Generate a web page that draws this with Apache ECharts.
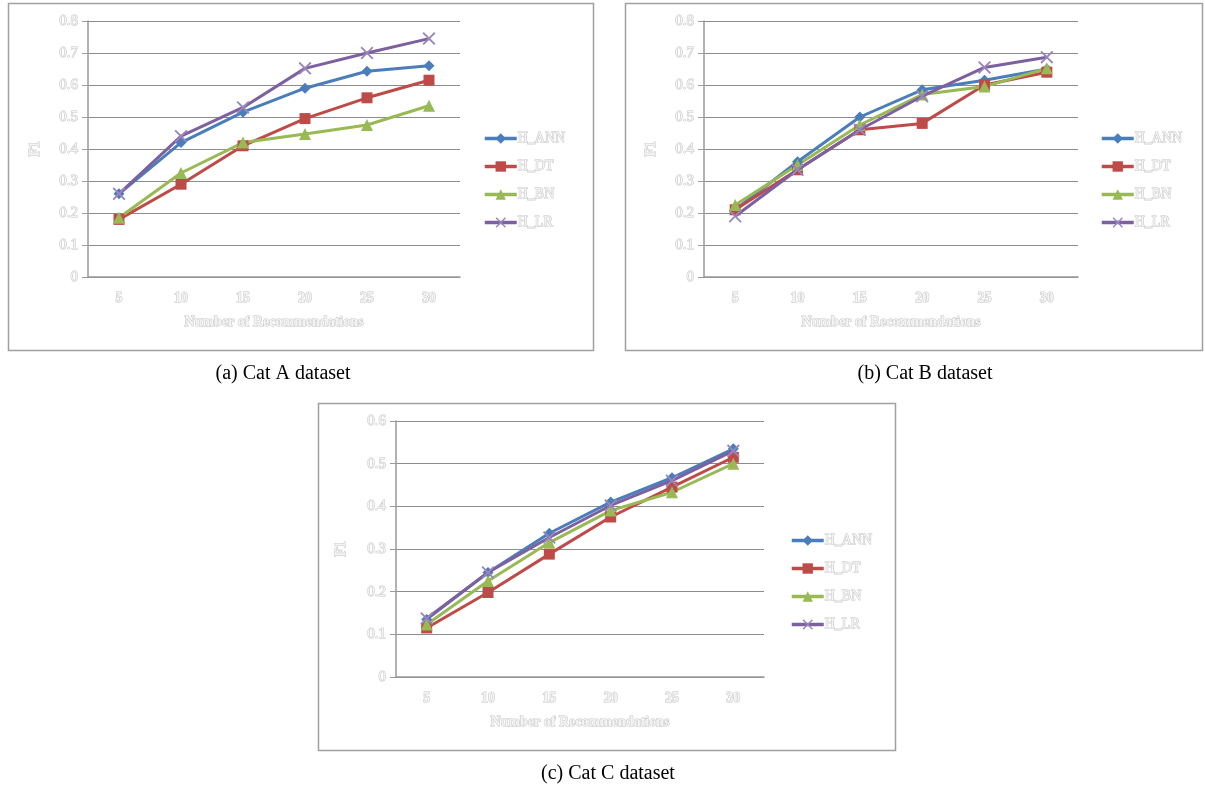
<!DOCTYPE html>
<html>
<head>
<meta charset="utf-8">
<script src="https://cdn.jsdelivr.net/npm/echarts@6/dist/echarts.min.js"></script>
<style>
  html, body { margin: 0; padding: 0; background: #fff; }
  #chart { width: 1205px; height: 789px; }
</style>
</head>
<body>
<div id="chart"></div>
<script>
// categories and names
const recs = ['5', '10', '15', '20', '25', '30']
const methods = ['H_ANN', 'H_DT', 'H_BN', 'H_LR']

// Cat A
const annA = [0.26, 0.42, 0.515, 0.59, 0.643, 0.66]
const dtA = [0.18, 0.29, 0.41, 0.495, 0.56, 0.615]
const bnA = [0.185, 0.325, 0.42, 0.447, 0.475, 0.535]
const lrA = [0.26, 0.44, 0.53, 0.652, 0.70, 0.745]

// Cat B
const annB = [0.21, 0.36, 0.50, 0.585, 0.615, 0.65]
const dtB = [0.21, 0.335, 0.46, 0.48, 0.60, 0.64]
const bnB = [0.225, 0.35, 0.475, 0.57, 0.595, 0.652]
const lrB = [0.19, 0.335, 0.46, 0.565, 0.655, 0.687]

// Cat C
const annC = [0.135, 0.245, 0.337, 0.41, 0.467, 0.535]
const dtC = [0.115, 0.198, 0.288, 0.375, 0.445, 0.515]
const bnC = [0.123, 0.225, 0.315, 0.39, 0.433, 0.50]
const lrC = [0.137, 0.245, 0.327, 0.402, 0.46, 0.53]

const colors = ['#4a7ebb', '#be4b48', '#98b954', '#7d60a0']
const xPath = 'path://M0,1L1,0L5,4L9,0L10,1L6,5L10,9L9,10L5,6L1,10L0,9L4,5Z'
const symbols = ['diamond', 'rect', 'triangle', xPath]
const symbolSizes = [11, 11, 12, 13]

const faint = {
  color: '#f4f4f4',
  textBorderColor: '#c4c4c4',
  textBorderWidth: 1,
  fontFamily: 'Liberation Serif'
}

const chart = echarts.init(document.getElementById('chart'))

const grids = [
  { left: 88, top: 21, width: 372, height: 256 },
  { left: 704, top: 21, width: 374, height: 256 },
  { left: 396, top: 421, width: 368, height: 256 }
]
const maxes = [0.8, 0.8, 0.6]
const nameGaps = [46, 46, 48]
const data = [
  [annA, dtA, bnA, lrA],
  [annB, dtB, bnB, lrB],
  [annC, dtC, bnC, lrC]
]
const legendPos = [
  { left: 478, top: 126 },
  { left: 1095, top: 126 },
  { left: 785, top: 528 }
]

const xAxis = grids.map((g, i) => ({
  type: 'category',
  gridIndex: i,
  data: recs,
  name: 'Number of Recommendations',
  nameLocation: 'middle',
  nameGap: 38,
  nameTextStyle: Object.assign({ fontSize: 14, fontWeight: 'bold' }, faint),
  axisLine: { lineStyle: { color: '#999', width: 1.5 } },
  axisTick: { show: false },
  axisLabel: Object.assign({ fontSize: 14, fontWeight: 'bold', margin: 14 }, faint)
}))

const yAxis = grids.map((g, i) => ({
  type: 'value',
  gridIndex: i,
  min: 0,
  max: maxes[i],
  interval: 0.1,
  name: 'F1',
  nameLocation: 'middle',
  nameGap: nameGaps[i],
  nameTextStyle: Object.assign({ fontSize: 14, fontWeight: 'bold' }, faint),
  axisLine: { show: true, lineStyle: { color: '#999', width: 1.5 } },
  axisTick: { show: true, length: 6, lineStyle: { color: '#999' } },
  axisLabel: Object.assign({ fontSize: 15, margin: 10, formatter: v => (v === 0 ? '0' : v.toFixed(1)) }, faint),
  splitLine: { lineStyle: { color: '#8c8c8c', width: 1 } }
}))

const series = []
data.forEach((set, gi) => {
  set.forEach((vals, mi) => {
    series.push({
      name: methods[mi],
      type: 'line',
      xAxisIndex: gi,
      yAxisIndex: gi,
      data: vals,
      symbol: symbols[mi],
      symbolSize: symbolSizes[mi],
      itemStyle: { color: mi === 3 ? '#9a86bd' : colors[mi] },
      lineStyle: { color: colors[mi], width: 3 },
      emphasis: { disabled: true },
      z: mi === 3 ? 3 : 2
    })
  })
})

const legends = legendPos.map((p, i) => ({
  orient: 'vertical',
  left: p.left,
  top: p.top,
  itemWidth: 32,
  itemHeight: 13,
  itemGap: 13,
  data: methods,
  itemStyle: { borderWidth: 0 },
  lineStyle: { width: 3.5 },
  textStyle: Object.assign({ fontSize: 14, padding: [0, 0, 0, -4] }, faint)
}))

const border = (x, y, w, h) => ({
  type: 'rect',
  shape: { x: x, y: y, width: w, height: h },
  style: { fill: 'none', stroke: '#a0a0a0', lineWidth: 1.5 },
  silent: true
})
const caption = (x, y, t) => ({
  type: 'text',
  x: x,
  y: y,
  style: {
    text: t,
    fill: '#000',
    font: '20px "Liberation Serif"',
    align: 'center',
    verticalAlign: 'middle'
  }
})

chart.setOption({
  animation: false,
  grid: grids,
  xAxis: xAxis,
  yAxis: yAxis,
  legend: legends,
  series: series,
  graphic: [
    border(8.5, 3.5, 585, 347),
    border(625.5, 3.5, 577, 347),
    border(318.5, 403.5, 577, 347),
    caption(283, 374, '(a) Cat A dataset'),
    caption(925, 374, '(b) Cat B dataset'),
    caption(608, 774, '(c) Cat C dataset')
  ]
})
</script>
</body>
</html>
